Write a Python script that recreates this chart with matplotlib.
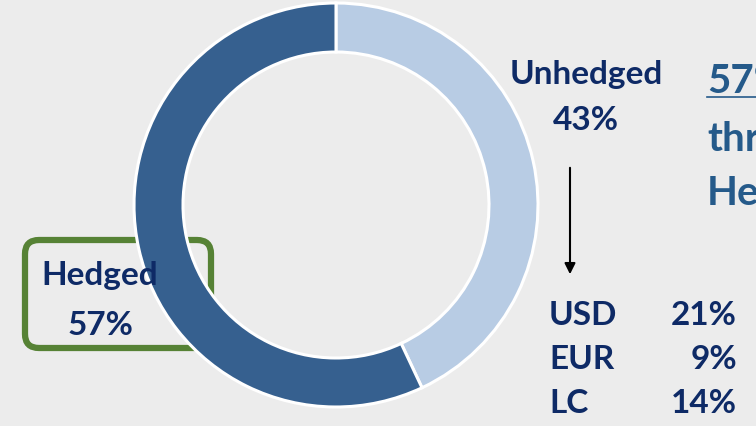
import matplotlib
matplotlib.use("Agg")
import matplotlib.pyplot as plt
from matplotlib.patches import FancyBboxPatch

# data
labels = ["Unhedged", "Hedged"]
shares = [43, 57]
unhedged_split = ["USD", "EUR", "LC"]
unhedged_values = [21, 9, 14]

DARK = "#36608F"
LIGHT = "#B8CCE4"
NAVY = "#0E2A66"
STEEL = "#255A8A"
GREEN = "#568235"
BG = "#ECECEC"

plt.rcParams["font.family"] = ["Lato", "DejaVu Sans"]

W, H = 756, 426
fig = plt.figure(figsize=(W / 100, H / 100), dpi=100, facecolor=BG)
ax = fig.add_axes([0, 0, 1, 1])


def Y(y):
    # pixel row from top -> data y
    return H - y


# green box behind the donut
box = FancyBboxPatch((25, Y(348)), 186, 108, boxstyle="round,pad=0,rounding_size=14",
                     fc="none", ec=GREEN, lw=4.5, zorder=1)
ax.add_patch(box)

ax.pie(shares, colors=[LIGHT, DARK], startangle=90, counterclock=False,
       center=(336, Y(205)), radius=202, frame=True,
       wedgeprops=dict(width=49, edgecolor="white", linewidth=2.2))
ax.set_xlim(0, W)
ax.set_ylim(0, H)
ax.set_aspect("equal")
ax.axis("off")

fs = 24
ax.text(100, Y(285), labels[1], ha="center", va="baseline", fontsize=fs,
        fontweight="bold", color=NAVY, zorder=5)
ax.text(100, Y(335), f"{shares[1]}%", ha="center", va="baseline", fontsize=fs,
        fontweight="bold", color=NAVY, zorder=5)

ax.text(586, Y(84), labels[0], ha="center", va="baseline", fontsize=fs,
        fontweight="bold", color=NAVY)
ax.text(586, Y(130), f"{shares[0]}%", ha="center", va="baseline", fontsize=fs,
        fontweight="bold", color=NAVY)

ax.annotate("", xy=(570, Y(277)), xytext=(570, Y(165)),
            arrowprops=dict(arrowstyle="-|>", color="black", lw=1.5, mutation_scale=16))

for i, (c, v) in enumerate(zip(unhedged_split, unhedged_values)):
    yb = 325 + i * 44
    ax.text(549, Y(yb), c, ha="left", va="baseline", fontsize=fs,
            fontweight="bold", color=NAVY)
    ax.text(737, Y(yb), f"{v}%", ha="right", va="baseline", fontsize=fs,
            fontweight="bold", color=NAVY)

# headline text on the right (runs off the edge, as in the slide)
big = 29
ax.text(707, Y(93), f"{shares[1]}%", ha="left", va="baseline", fontsize=big,
        fontweight="bold", color=STEEL)
ax.plot([707, 770], [Y(97), Y(97)], color=STEEL, lw=1.2, clip_on=False)
ax.text(707, Y(150), "through", ha="left", va="baseline", fontsize=big,
        fontweight="bold", color=STEEL)
ax.text(707, Y(205), "Hedging", ha="left", va="baseline", fontsize=big,
        fontweight="bold", color=STEEL)

fig.savefig("out.png", dpi=100, facecolor=BG)
